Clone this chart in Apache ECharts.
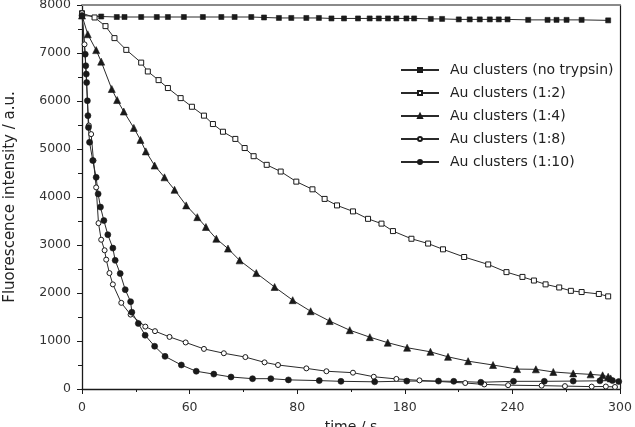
<!DOCTYPE html>
<html>
<head>
<meta charset="utf-8">
<script src="https://cdn.jsdelivr.net/npm/echarts@6/dist/echarts.min.js"></script>
<style>
html,body{margin:0;padding:0;background:#fff;}
#c{width:635px;height:427px;}
</style>
</head>
<body>
<div id="c"></div>
<script>
// ---- data (time / s, intensity / a.u.) ----
var seriesNames = ['Au clusters (no trypsin)', 'Au clusters (1:2)', 'Au clusters (1:4)', 'Au clusters (1:8)', 'Au clusters (1:10)'];
var xTickValues = [0, 60, 120, 180, 240, 300];
var xTickLabels = ['0', '60', '80', '180', '240', '300'];

var tNoTrypsin = [0, 10.7, 19.4, 23.7, 33.0, 41.7, 47.9, 56.8, 67.4, 77.7, 85.1, 94.4, 101.5, 109.8, 116.7, 125.1, 132.1, 139.1, 146.1, 153.9, 160.4, 165.5, 170.6, 175.3, 180.9, 185.2, 194.5, 200.8, 210.1, 216.2, 221.8, 227.4, 232.4, 237.3, 248.8, 259.6, 264.6, 270.2, 278.6, 293.4];
var vNoTrypsin = [7780, 7760, 7750, 7750, 7750, 7750, 7750, 7750, 7750, 7750, 7750, 7750, 7740, 7730, 7730, 7730, 7730, 7720, 7720, 7720, 7720, 7720, 7720, 7720, 7720, 7720, 7710, 7710, 7700, 7700, 7700, 7700, 7700, 7700, 7690, 7690, 7690, 7690, 7690, 7680];

var t12 = [0, 7.0, 13.1, 18.1, 24.7, 33.0, 36.7, 42.7, 47.9, 55.0, 61.3, 68.0, 73.0, 78.6, 85.5, 90.7, 95.7, 103.0, 110.8, 119.5, 128.5, 135.3, 142.2, 151.1, 159.5, 167.0, 173.4, 183.7, 193.0, 201.3, 213.1, 226.5, 236.7, 245.6, 252.0, 258.5, 266.1, 272.6, 278.6, 288.2, 293.4];
var v12 = [7830, 7740, 7560, 7310, 7065, 6800, 6615, 6435, 6270, 6060, 5880, 5695, 5520, 5360, 5210, 5020, 4850, 4670, 4530, 4320, 4160, 3960, 3825, 3700, 3545, 3445, 3290, 3130, 3030, 2910, 2750, 2595, 2435, 2335, 2260, 2180, 2115, 2045, 2020, 1980, 1930];

var t14 = [0, 3.2, 7.9, 10.7, 16.6, 19.6, 23.3, 28.9, 32.6, 35.6, 40.5, 46.0, 51.6, 58.1, 64.3, 69.1, 74.9, 81.4, 87.9, 97.2, 107.4, 117.5, 127.5, 138.1, 149.3, 160.5, 170.5, 181.3, 194.3, 204.1, 215.3, 229.2, 242.6, 253.1, 262.8, 273.9, 283.6, 290.3, 293.4, 294.8];
var v14 = [7780, 7390, 7060, 6820, 6250, 6020, 5780, 5440, 5190, 4950, 4655, 4410, 4150, 3825, 3580, 3375, 3130, 2925, 2680, 2415, 2125, 1850, 1620, 1415, 1225, 1080, 965, 860, 775, 670, 580, 500, 415, 410, 355, 325, 305, 285, 255, 220];

var t18 = [0, 1.4, 3.8, 5.1, 6.4, 7.9, 9.2, 10.7, 12.6, 13.5, 15.3, 17.2, 21.9, 27.1, 35.3, 40.7, 48.8, 57.8, 68.0, 79.1, 91.1, 101.8, 109.3, 125.1, 136.3, 151.1, 162.7, 175.3, 188.2, 213.7, 224.3, 237.6, 256.3, 269.3, 284.2, 292.1, 297.2];
var v18 = [7830, 7180, 5490, 5310, 4760, 4200, 3455, 3110, 2890, 2695, 2415, 2180, 1795, 1550, 1300, 1205, 1085, 970, 835, 745, 665, 555, 500, 430, 370, 340, 255, 210, 180, 125, 95, 80, 70, 60, 50, 52, 42];

var t110 = [0, 1.8, 2.1, 2.4, 2.6, 3.0, 3.3, 3.6, 4.2, 6.0, 7.9, 9.0, 10.3, 12.2, 14.4, 17.2, 18.5, 21.3, 24.1, 27.1, 27.8, 31.4, 35.2, 40.5, 46.3, 55.4, 63.7, 73.5, 83.1, 95.1, 105.3, 115.1, 132.3, 144.4, 163.2, 181.1, 198.8, 207.3, 222.4, 240.6, 257.8, 273.9, 288.8, 295.8, 299.3];
var v110 = [7780, 6975, 6735, 6560, 6385, 6005, 5695, 5450, 5140, 4760, 4410, 4065, 3790, 3510, 3215, 2935, 2680, 2405, 2070, 1820, 1600, 1365, 1120, 890, 680, 500, 370, 310, 250, 215, 215, 190, 175, 160, 150, 165, 165, 160, 140, 160, 160, 165, 170, 175, 155];

function zip(t, v) { return t.map(function (x, i) { return [x, v[i]]; }); }

var FONT = 'DejaVu Sans';
var INK = '#1a1a1a';

function mk(name, t, v, symbol, size, filled) {
  return {
    name: name, type: 'line', data: zip(t, v),
    symbol: symbol, symbolSize: size, showSymbol: true,
    lineStyle: { color: '#2a2a2a', width: 1 },
    itemStyle: filled ? { color: INK, borderColor: INK, borderWidth: 0.6 } : { color: '#ffffff', borderColor: INK, borderWidth: 1 },
    emphasis: { disabled: true }, animation: false, z: 3
  };
}

var chart = echarts.init(document.getElementById('c'), null, { renderer: 'canvas' });
chart.setOption({
  animation: false,
  backgroundColor: '#ffffff',
  grid: { left: 82, right: 15, top: 5, bottom: 38, containLabel: false, outerBoundsMode: 'none' },
  legend: {
    orient: 'vertical', left: 395, top: 58,
    itemWidth: 38, itemHeight: 5, itemGap: 9,
    textStyle: { fontFamily: FONT, fontSize: 14, color: '#222', padding: [0, 0, 0, 6] },
    data: seriesNames
  },
  xAxis: [{
    type: 'value', min: 0, max: 300, interval: 60,
    name: 'time / s', nameLocation: 'middle', nameGap: 31,
    nameTextStyle: { fontFamily: FONT, fontSize: 14, color: '#222' },
    axisLine: { lineStyle: { color: INK, width: 1.3 } },
    axisTick: { show: true, inside: false, length: 5, lineStyle: { color: INK } },
    minorTick: { show: true, splitNumber: 2, length: 3, lineStyle: { color: INK } },
    axisLabel: {
      margin: 12, fontFamily: FONT, fontSize: 12.5, color: '#333',
      formatter: function (val) { var i = xTickValues.indexOf(val); return i >= 0 ? xTickLabels[i] : ''; }
    },
    splitLine: { show: false }
  }, {
    type: 'value', min: 0, max: 300, position: 'top',
    axisLine: { show: true, onZero: false, lineStyle: { color: '#8a8a8a', width: 2 } },
    axisTick: { show: false }, axisLabel: { show: false }, splitLine: { show: false }
  }],
  yAxis: [{
    type: 'value', min: 0, max: 8000, interval: 1000,
    name: 'Fluorescence intensity / a.u.', nameLocation: 'middle', nameGap: 64,
    nameTextStyle: { fontFamily: FONT, fontSize: 15, color: '#222' },
    axisLine: { show: true, lineStyle: { color: INK, width: 1.3 } },
    axisTick: { show: true, inside: false, length: 5, lineStyle: { color: INK } },
    minorTick: { show: true, splitNumber: 2, length: 4, lineStyle: { color: INK } },
    axisLabel: { margin: 11, fontFamily: FONT, fontSize: 12.5, color: '#333', formatter: function (v) { return String(v); } },
    splitLine: { show: false }
  }, {
    type: 'value', min: 0, max: 8000, position: 'right',
    axisLine: { show: true, onZero: false, lineStyle: { color: INK, width: 1.2 } },
    axisTick: { show: false }, axisLabel: { show: false }, splitLine: { show: false }
  }],
  series: [
    mk(seriesNames[0], tNoTrypsin, vNoTrypsin, 'rect', 5, true),
    mk(seriesNames[1], t12, v12, 'rect', 5, false),
    mk(seriesNames[2], t14, v14, 'triangle', 7, true),
    mk(seriesNames[3], t18, v18, 'circle', 5, false),
    mk(seriesNames[4], t110, v110, 'circle', 6, true)
  ]
});
</script>
</body>
</html>
